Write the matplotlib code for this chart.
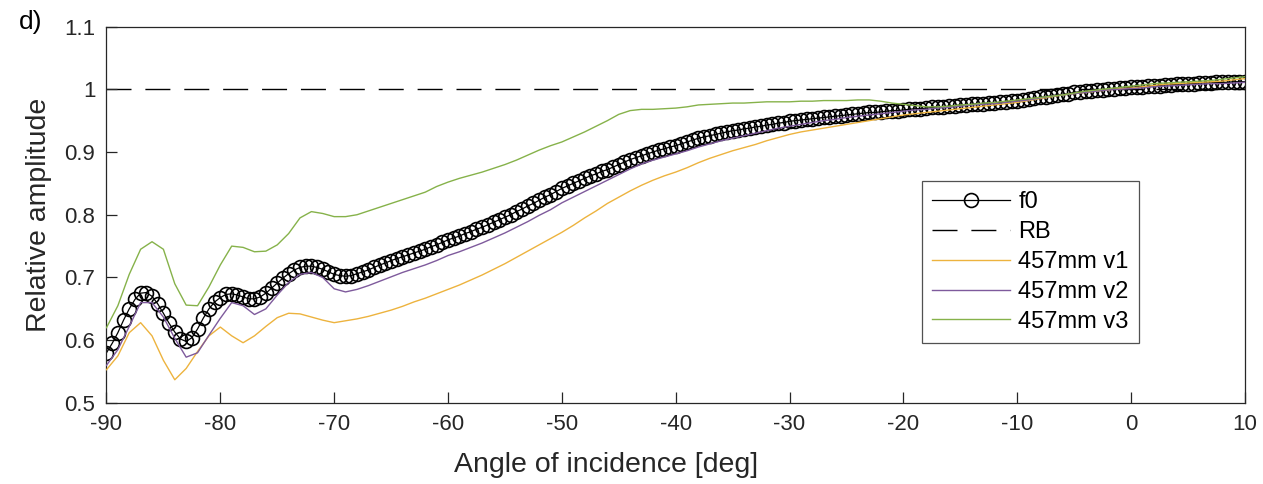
import numpy as np
import matplotlib
matplotlib.use('AGG')
import matplotlib.pyplot as plt

plt.rcParams['font.family'] = ['Liberation Sans', 'DejaVu Sans']
plt.rcParams['axes.unicode_minus'] = False

# f0 sampled every 0.5 deg, the 457mm runs every 1 deg
angle_f0 = np.linspace(-90, 10, 201)
f0 = [
    0.580, 0.595, 0.612, 0.632, 0.650, 0.665, 0.675, 0.676, 0.670, 0.658,
    0.643, 0.627, 0.613, 0.602, 0.598, 0.604, 0.618, 0.635, 0.650, 0.661,
    0.668, 0.673, 0.674, 0.672, 0.669, 0.666, 0.666, 0.669, 0.675, 0.683,
    0.691, 0.699, 0.706, 0.712, 0.716, 0.718, 0.718, 0.716, 0.713, 0.709,
    0.705, 0.703, 0.702, 0.703, 0.706, 0.709, 0.712, 0.716, 0.720, 0.723,
    0.727, 0.730, 0.733, 0.736, 0.739, 0.742, 0.745, 0.749, 0.752, 0.756,
    0.760, 0.763, 0.766, 0.770, 0.773, 0.777, 0.780, 0.784, 0.788, 0.792,
    0.796, 0.800, 0.805, 0.809, 0.814, 0.818, 0.823, 0.828, 0.832, 0.837,
    0.842, 0.846, 0.850, 0.854, 0.858, 0.862, 0.865, 0.869, 0.872, 0.876,
    0.880, 0.884, 0.888, 0.891, 0.894, 0.897, 0.900, 0.903, 0.905, 0.908,
    0.910, 0.913, 0.916, 0.919, 0.922, 0.924, 0.926, 0.928, 0.930, 0.932,
    0.934, 0.935, 0.937, 0.938, 0.940, 0.941, 0.943, 0.944, 0.946, 0.947,
    0.949, 0.950, 0.951, 0.952, 0.953, 0.954, 0.955, 0.956, 0.957, 0.958,
    0.959, 0.960, 0.961, 0.962, 0.963, 0.963, 0.964, 0.965, 0.966, 0.966,
    0.967, 0.968, 0.969, 0.969, 0.970, 0.971, 0.972, 0.972, 0.973, 0.974,
    0.975, 0.975, 0.976, 0.977, 0.977, 0.978, 0.978, 0.979, 0.980, 0.981,
    0.982, 0.983, 0.984, 0.986, 0.987, 0.988, 0.990, 0.991, 0.992, 0.993,
    0.995, 0.996, 0.997, 0.998, 0.999, 0.999, 1.000, 1.001, 1.002, 1.002,
    1.003, 1.004, 1.004, 1.005, 1.006, 1.006, 1.007, 1.007, 1.008, 1.008,
    1.009, 1.009, 1.010, 1.010, 1.010, 1.011, 1.011, 1.011, 1.012, 1.012,
    1.012,
]

angle = np.arange(-90, 11)
v1 = [
    0.553, 0.575, 0.612, 0.628, 0.607, 0.568, 0.537, 0.555, 0.582, 0.607,
    0.621, 0.607, 0.596, 0.607, 0.622, 0.636, 0.643, 0.642, 0.637, 0.632,
    0.628, 0.631, 0.634, 0.638, 0.643, 0.648, 0.654, 0.661, 0.667, 0.674,
    0.681, 0.688, 0.696, 0.704, 0.713, 0.722, 0.732, 0.742, 0.752, 0.762,
    0.772, 0.783, 0.795, 0.806, 0.818, 0.828, 0.838, 0.847, 0.855, 0.862,
    0.868, 0.875, 0.883, 0.890, 0.896, 0.902, 0.907, 0.912, 0.918, 0.923,
    0.928, 0.932, 0.935, 0.938, 0.941, 0.944, 0.947, 0.950, 0.953, 0.956,
    0.959, 0.961, 0.963, 0.965, 0.967, 0.969, 0.971, 0.973, 0.975, 0.977,
    0.979, 0.982, 0.985, 0.988, 0.991, 0.993, 0.995, 0.997, 0.999, 1.001,
    1.002, 1.004, 1.006, 1.008, 1.009, 1.010, 1.011, 1.012, 1.013, 1.015,
    1.017,
]
v2 = [
    0.560, 0.585, 0.622, 0.660, 0.660, 0.637, 0.603, 0.573, 0.580, 0.608,
    0.635, 0.660, 0.655, 0.641, 0.650, 0.672, 0.692, 0.705, 0.708, 0.700,
    0.682, 0.677, 0.681, 0.687, 0.694, 0.701, 0.708, 0.714, 0.720, 0.727,
    0.735, 0.741, 0.748, 0.755, 0.763, 0.771, 0.780, 0.789, 0.799, 0.808,
    0.819, 0.828, 0.837, 0.846, 0.855, 0.864, 0.873, 0.881, 0.887, 0.892,
    0.897, 0.902, 0.908, 0.913, 0.918, 0.922, 0.926, 0.930, 0.934, 0.938,
    0.941, 0.944, 0.947, 0.950, 0.952, 0.955, 0.957, 0.959, 0.961, 0.963,
    0.965, 0.967, 0.968, 0.970, 0.971, 0.973, 0.975, 0.976, 0.977, 0.979,
    0.981, 0.983, 0.986, 0.989, 0.991, 0.993, 0.995, 0.997, 0.999, 1.000,
    1.001, 1.002, 1.004, 1.005, 1.006, 1.007, 1.008, 1.009, 1.009, 1.010,
    1.011,
]
v3 = [
    0.620, 0.655, 0.705, 0.745, 0.757, 0.745, 0.690, 0.656, 0.655, 0.685,
    0.720, 0.750, 0.748, 0.741, 0.742, 0.752, 0.770, 0.795, 0.805, 0.802,
    0.797, 0.797, 0.800, 0.806, 0.812, 0.818, 0.824, 0.830, 0.836, 0.845,
    0.852, 0.858, 0.863, 0.868, 0.874, 0.880, 0.887, 0.895, 0.903, 0.910,
    0.916, 0.924, 0.932, 0.941, 0.950, 0.960, 0.966, 0.968, 0.968, 0.969,
    0.970, 0.972, 0.975, 0.976, 0.977, 0.978, 0.978, 0.979, 0.980, 0.980,
    0.980, 0.981, 0.981, 0.982, 0.982, 0.982, 0.983, 0.983, 0.981, 0.978,
    0.976, 0.974, 0.972, 0.972, 0.973, 0.975, 0.976, 0.978, 0.979, 0.981,
    0.983, 0.985, 0.987, 0.989, 0.991, 0.994, 0.997, 0.999, 1.001, 1.003,
    1.005, 1.007, 1.009, 1.010, 1.011, 1.012, 1.013, 1.014, 1.016, 1.018,
    1.020,
]
rb_level = 1.0

fig = plt.figure(figsize=(12.63, 4.84), dpi=100)
ax = fig.add_axes([0.0843, 0.1674, 0.9014, 0.7778])

ax.plot(angle_f0, f0, color='black', lw=0.9, marker='o', ms=10,
        mfc='none', mec='black', mew=1.2, label='f0', zorder=2)
ax.plot([angle[0], angle[-1]], [rb_level, rb_level], color='black', lw=1.0,
        ls=(0, (18, 10)), label='RB', zorder=1)
ax.plot(angle, v1, color='#EDB33E', lw=1.0, label='457mm v1', zorder=3)
ax.plot(angle, v2, color='#7E5A9C', lw=1.0, label='457mm v2', zorder=3)
ax.plot(angle, v3, color='#86B24A', lw=1.0, label='457mm v3', zorder=3)

ax.set_xlim(-90, 10)
ax.set_ylim(0.5, 1.1)
ax.set_xticks(np.arange(-90, 11, 10))
ax.set_yticks([0.5, 0.6, 0.7, 0.8, 0.9, 1.0, 1.1])
ax.set_yticklabels(['0.5', '0.6', '0.7', '0.8', '0.9', '1', '1.1'])
ax.tick_params(direction='in', length=8, width=0.9, labelsize=16,
               colors='#262626', pad=8)
for sp in ax.spines.values():
    sp.set_color('#262626')
    sp.set_linewidth(0.9)

ax.set_xlabel('Angle of incidence [deg]', fontsize=20.5, color='#262626')
ax.xaxis.set_label_coords(0.439, -0.13)
ax.set_ylabel('Relative amplitude', fontsize=20.5, color='#262626')
ax.yaxis.set_label_coords(-0.048, 0.5)

fig.text(0.015, 0.955, 'd)', fontsize=19, color='black', ha='left', va='center')

leg = ax.legend(loc='upper left', bbox_to_anchor=(0.716, 0.59), borderaxespad=0,
                fontsize=17, frameon=True, fancybox=False, handlelength=3.3,
                labelspacing=0.33, borderpad=0.45, handletextpad=0.35)
leg.get_frame().set_edgecolor('#262626')
leg.get_frame().set_linewidth(0.9)

fig.savefig('out.png', dpi=100)
